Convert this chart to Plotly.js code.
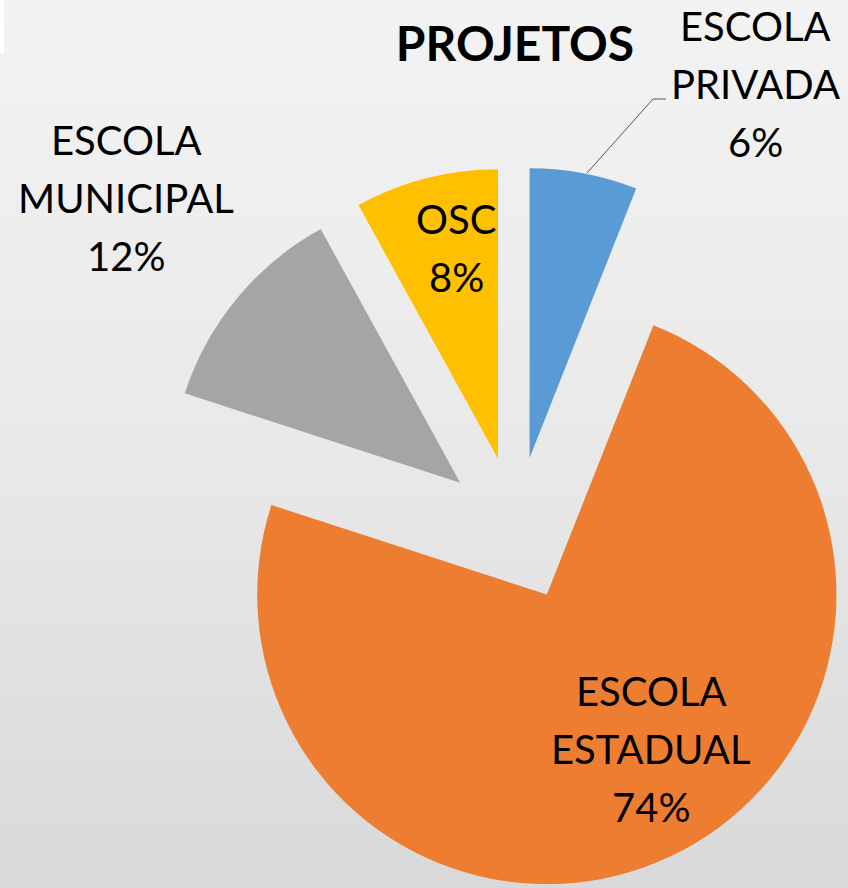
<!DOCTYPE html>
<html>
<head>
<meta charset="utf-8">
<script src="https://cdn.plot.ly/plotly-3.0.1.min.js"></script>
<style>
html, body { margin: 0; padding: 0; width: 848px; height: 888px; overflow: hidden; }
body { background: linear-gradient(to bottom, #f3f3f3 0%, #e9e9e9 50%, #d9d9d9 100%); }
#chart { width: 900px; height: 900px; }
</style>
</head>
<body>
<div id="chart"></div>
<script>
// Data
const categories = ["ESCOLA PRIVADA", "ESCOLA ESTADUAL", "ESCOLA MUNICIPAL", "OSC"];
const labelLines = ["ESCOLA<br>PRIVADA", "ESCOLA<br>ESTADUAL", "ESCOLA<br>MUNICIPAL", "OSC"];
const percentages = [6, 74, 12, 8];
const sliceColors = ["#5B9BD5", "#ED7D31", "#A5A5A5", "#FFC000"];
const chartTitle = "PROJETOS";

// Layout helpers (pixel -> paper, canvas 900x900, no margins)
const W = 900, H = 900;
const px = x => x / W;
const py = y => 1 - y / H;

// Label block centres (px) for each slice, in category order
const labelPos = [[755, 84], [651, 749], [126, 198], [456, 248]];
const linePitch = 58;
const labelFont = { family: "Lato, 'Open Sans', sans-serif", size: 40, color: "#000000" };

const trace = {
  type: "pie",
  labels: categories,
  values: percentages,
  sort: false,
  direction: "clockwise",
  rotation: 0,
  pull: [0.25, 0.25, 0.25, 0.25],
  marker: { colors: sliceColors, line: { width: 0 } },
  textinfo: "none",
  hoverinfo: "label+percent",
  showlegend: false,
  domain: { x: [px(516 - 362), px(516 + 362)], y: [py(891), py(167)] }
};

const annotations = [];
categories.forEach((c, i) => {
  const lines = labelLines[i].split("<br>").concat([percentages[i] + "%"]);
  const n = lines.length;
  lines.forEach((t, j) => {
    annotations.push({
      xref: "paper", yref: "paper",
      x: px(labelPos[i][0]),
      y: py(labelPos[i][1] + (j - (n - 1) / 2) * linePitch),
      xanchor: "center", yanchor: "middle",
      text: t, showarrow: false, align: "center",
      font: labelFont
    });
  });
});

const shapes = [
  { type: "path", xref: "paper", yref: "paper",
    path: `M ${px(587)} ${py(173)} L ${px(653)} ${py(99)} L ${px(666)} ${py(99)}`,
    line: { color: "#595959", width: 1 } },
  { type: "rect", xref: "paper", yref: "paper",
    x0: 0, x1: px(4), y0: py(53), y1: 1,
    fillcolor: "#ffffff", line: { width: 0 } }
];

const layout = {
  width: W, height: H,
  margin: { l: 0, r: 0, t: 0, b: 0 },
  paper_bgcolor: "rgba(0,0,0,0)",
  plot_bgcolor: "rgba(0,0,0,0)",
  title: {
    text: "<b>" + chartTitle + "</b>",
    xref: "paper", yref: "container",
    x: px(515), y: py(44),
    xanchor: "center", yanchor: "middle",
    font: { family: "Lato, 'Open Sans', sans-serif", size: 48, color: "#000000" }
  },
  annotations: annotations,
  shapes: shapes
};

Plotly.newPlot("chart", [trace], layout, { displayModeBar: false, staticPlot: true });
</script>
</body>
</html>
